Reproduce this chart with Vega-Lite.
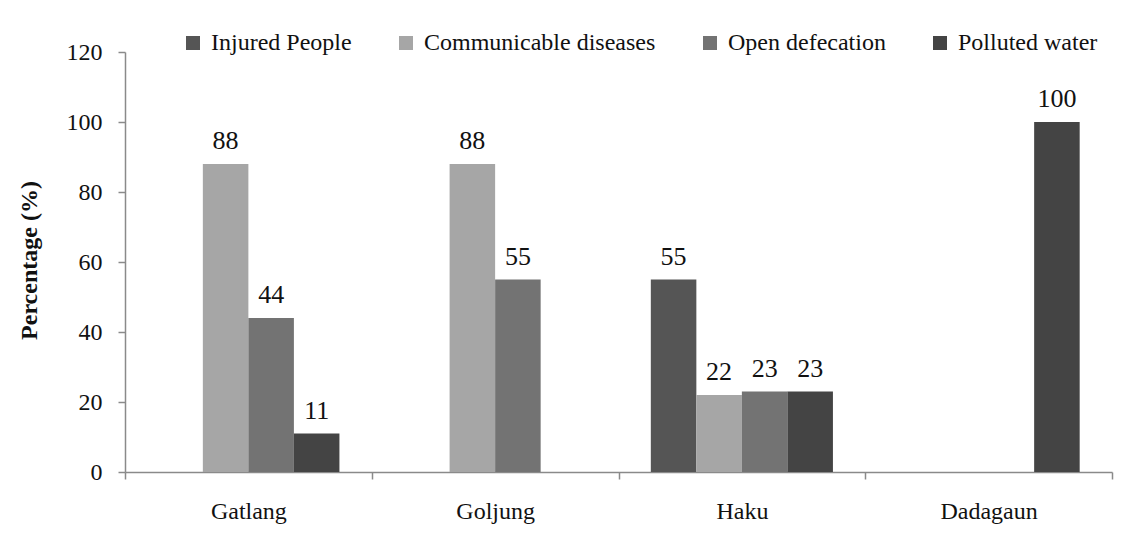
{
  "$schema": "https://vega.github.io/schema/vega-lite/v6.json",
  "width": 987,
  "height": 420,
  "autosize": {"type": "none"},
  "padding": {"left": 125, "top": 52, "right": 32, "bottom": 68},
  "background": "white",
  "config": {
    "font": "'Liberation Serif', 'Times New Roman', serif",
    "view": {"stroke": null},
    "text": {"font": "'Liberation Serif', 'Times New Roman', serif"},
    "axis": {"labelFont": "'Liberation Serif', 'Times New Roman', serif", "titleFont": "'Liberation Serif', 'Times New Roman', serif", "labelColor": "#111", "titleColor": "#111", "domainColor": "#8a8a8a", "tickColor": "#8a8a8a", "domainWidth": 1.5, "tickWidth": 1.5},
    "legend": {"labelFont": "'Liberation Serif', 'Times New Roman', serif"}
  },
  "data": {
    "values": [
      {"site": "Gatlang", "cause": "Injured People", "value": 0},
      {"site": "Gatlang", "cause": "Communicable diseases", "value": 88},
      {"site": "Gatlang", "cause": "Open defecation", "value": 44},
      {"site": "Gatlang", "cause": "Polluted water", "value": 11},
      {"site": "Goljung", "cause": "Injured People", "value": 0},
      {"site": "Goljung", "cause": "Communicable diseases", "value": 88},
      {"site": "Goljung", "cause": "Open defecation", "value": 55},
      {"site": "Goljung", "cause": "Polluted water", "value": 0},
      {"site": "Haku", "cause": "Injured People", "value": 55},
      {"site": "Haku", "cause": "Communicable diseases", "value": 22},
      {"site": "Haku", "cause": "Open defecation", "value": 23},
      {"site": "Haku", "cause": "Polluted water", "value": 23},
      {"site": "Dadagaun", "cause": "Injured People", "value": 0},
      {"site": "Dadagaun", "cause": "Communicable diseases", "value": 0},
      {"site": "Dadagaun", "cause": "Open defecation", "value": 0},
      {"site": "Dadagaun", "cause": "Polluted water", "value": 100}
    ]
  },
  "encoding": {
    "x": {
      "field": "site",
      "type": "nominal",
      "sort": ["Gatlang", "Goljung", "Haku", "Dadagaun"],
      "scale": {"paddingInner": 0, "paddingOuter": 0},
      "axis": {"title": null, "labelAngle": 0, "labelFontSize": 24, "labelPadding": 20, "tickSize": 7, "tickBand": "extent"}
    },
    "xOffset": {
      "field": "cause",
      "type": "nominal",
      "sort": ["Injured People", "Communicable diseases", "Open defecation", "Polluted water"],
      "scale": {"paddingInner": 0, "paddingOuter": 0.71}
    },
    "y": {
      "field": "value",
      "type": "quantitative",
      "scale": {"domain": [0, 120]},
      "axis": {
        "values": [0, 20, 40, 60, 80, 100, 120],
        "grid": false,
        "tickSize": 7,
        "labelFontSize": 24,
        "labelPadding": 16,
        "title": "Percentage (%)",
        "titleFontSize": 24,
        "titleFontWeight": "bold",
        "titleX": -96,
        "titleY": 208,
        "titleAlign": "center",
        "titleBaseline": "middle"
      }
    }
  },
  "layer": [
    {
      "mark": {"type": "bar"},
      "encoding": {
        "color": {
          "field": "cause",
          "type": "nominal",
          "sort": ["Injured People", "Communicable diseases", "Open defecation", "Polluted water"],
          "scale": {"range": ["#555555", "#a6a6a6", "#737373", "#444444"]},
          "legend": {
            "title": null,
            "orient": "none",
            "direction": "horizontal",
            "legendX": 56,
            "legendY": -21,
            "symbolType": "square",
            "symbolSize": 196,
            "symbolStrokeWidth": 0,
            "labelFont": "'Liberation Serif', 'Times New Roman', serif",
            "labelFontSize": 24,
            "labelColor": "#111",
            "labelOffset": 6,
            "columnPadding": 42,
            "labelLimit": 400
          }
        }
      }
    },
    {
      "transform": [{"filter": "datum.value > 0"}],
      "mark": {"type": "text", "baseline": "middle", "dy": -23, "fontSize": 26, "color": "#111", "font": "'Liberation Serif', 'Times New Roman', serif"},
      "encoding": {"text": {"field": "value", "type": "quantitative"}}
    }
  ]
}
